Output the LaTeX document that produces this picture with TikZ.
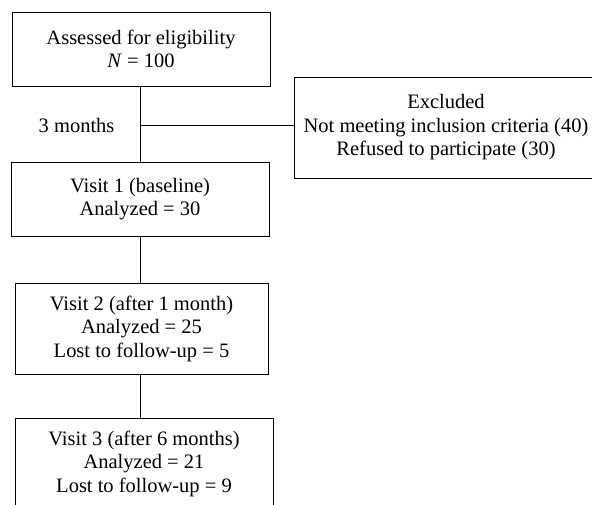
\documentclass[tikz,border=0pt]{standalone}
\usepackage{fontspec}
\setmainfont{Liberation Serif}
\usepackage{tikz}
\usetikzlibrary{positioning,calc}
\usepackage{xcolor}

\tikzset{
  flowbox/.style={draw=black, line width=0.9pt, fill=white, align=center,
                  font=\fontsize{20.5}{23.5}\selectfont, inner sep=4pt},
  flowline/.style={draw=black, line width=0.9pt}
}

\begin{document}
\begin{tikzpicture}[x=1pt,y=-1pt]
\useasboundingbox (0,0) rectangle (592,504);
\node[flowbox, minimum width=258pt, minimum height=74pt] (assess) at (141,49)
  {Assessed for eligibility\\ \textit{N} = 100};
\node[flowbox, minimum width=304pt, minimum height=101pt] (excl) at (446,127.5)
  {Excluded\\ Not meeting inclusion criteria (40)\\ Refused to participate (30)};
\node[flowbox, minimum width=258pt, minimum height=74pt] (visit1) at (140,199)
  {Visit 1 (baseline)\\ Analyzed = 30};
\node[flowbox, minimum width=253pt, minimum height=91pt] (visit2) at (141.5,328.5)
  {Visit 2 (after 1 month)\\ Analyzed = 25\\ Lost to follow-up = 5};
\node[flowbox, minimum width=258pt, minimum height=91pt] (visit3) at (144,463.5)
  {Visit 3 (after 6 months)\\ Analyzed = 21\\ Lost to follow-up = 9};
\coordinate (junc) at (140,125);
\node[font=\fontsize{20.5}{23.5}\selectfont, left=22pt of junc] (gap) {3 months};

% connectors
\draw[flowline] (assess.south -| junc) -- (visit1.north -| junc);
\draw[flowline] (junc) -- (junc -| excl.west);
\draw[flowline] (visit1.south -| junc) -- (visit2.north -| junc);
\draw[flowline] (visit2.south -| junc) -- (visit3.north -| junc);
\end{tikzpicture}
\end{document}
